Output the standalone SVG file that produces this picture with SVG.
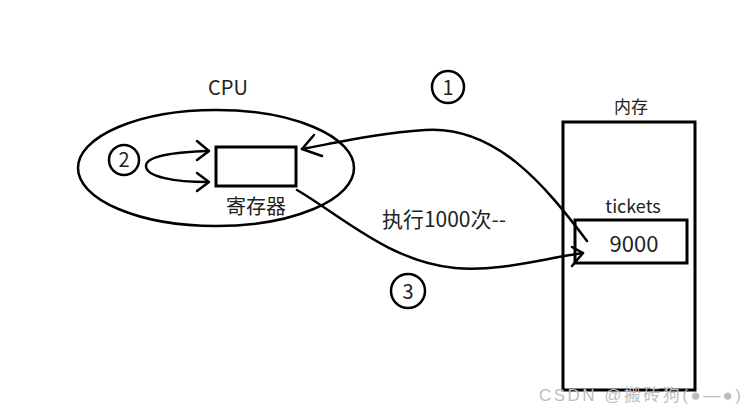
<svg xmlns="http://www.w3.org/2000/svg" width="756" height="414" viewBox="0 0 756 414">
<style>
.s{fill:none;stroke:#000;stroke-width:2.5;stroke-linecap:round;stroke-linejoin:round}
.b{fill:none;stroke:#000;stroke-width:3}
.t{font-family:"Noto Sans CJK SC","Noto Sans",sans-serif;fill:#222;text-anchor:middle}
.w{font-family:"Liberation Sans","Noto Sans CJK SC",sans-serif;fill:#bdbdbd}
</style>
<rect width="756" height="414" fill="#fff"/>
<g id="cpu">
<ellipse cx="216" cy="168" rx="138" ry="58" class="s"/>
<text x="228" y="95" class="t" font-size="20">CPU</text>
</g>
<g id="register">
<rect x="216" y="147" width="80" height="39" class="b"/>
<text x="256" y="214" class="t" font-size="20">寄存器</text>
</g>
<g id="memory">
<rect x="563" y="122" width="132" height="268" class="b"/>
<text x="631" y="113" class="t" font-size="17">内存</text>
</g>
<g id="tickets">
<text x="633" y="213" class="t" font-size="18">tickets</text>
<rect x="575" y="220" width="112" height="43" class="b"/>
<text x="634" y="252" class="t" font-size="22">9000</text>
</g>
<g id="step1">
<circle cx="448" cy="87" r="16" class="s" stroke-width="2"/>
<text x="448" y="95" class="t" font-size="20">1</text>
</g>
<g id="step2">
<circle cx="124" cy="160" r="15" class="s" stroke-width="2"/>
<text x="124" y="167" class="t" font-size="20">2</text>
</g>
<g id="step3">
<circle cx="408" cy="291" r="17" class="s" stroke-width="2"/>
<text x="408" y="299" class="t" font-size="20">3</text>
</g>
<g id="connectors">
<path class="s" d="M208,151 C175,152 146,156 146,166 C146,177 175,182 208,182"/>
<path class="s" d="M197,141 L209,151 L197,160"/>
<path class="s" d="M197,173 L209,182 L197,191"/>
<path class="s" d="M587,241 C545,185 495,125 425,130 C380,133 340,142 302,149"/>
<path class="s" d="M314,135 L302,149 L322,156"/>
<path class="s" d="M297,190 C340,215 390,262 455,268 C500,272 545,258 583,253"/>
<path class="s" d="M572,247 L583,253 L572,266"/>
<text x="444" y="227" class="t" font-size="21">执行1000次--</text>
</g>
<text x="539" y="401" class="w" font-size="17" textLength="202" lengthAdjust="spacing">CSDN @搬砖狗(●—●)</text>
</svg>
